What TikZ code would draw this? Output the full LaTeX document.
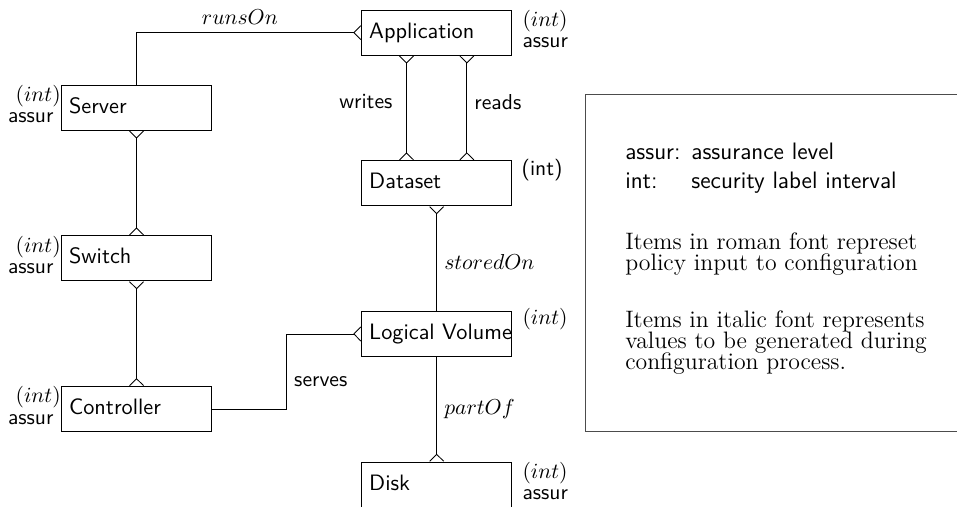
\documentclass[tikz,border=0pt]{standalone}
\usepackage{amsmath}
\usepackage{tikz}
\tikzset{>=latex}
\usetikzlibrary{calc,arrows.meta}
\newcommand{\tightlines}{\lineskiplimit=-20pt\relax}
\tikzset{
  entity/.style={draw, minimum height=0.732cm, text width=62.4pt, inner xsep=3.5pt, align=left, text height=1.6ex, text depth=.4ex, font=\fontsize{10.3}{12.4}\selectfont\sffamily},
  attr/.style={inner sep=0pt},
  foot/.tip={Straight Barb[reversed, length=3.2pt, width=6.5pt]},
  note/.style={anchor=north west, inner sep=0pt, align=left, font=\fontsize{11}{9.9}\selectfont\rmfamily\tightlines},
}

\begin{document}
\begin{tikzpicture}[font=\sffamily]
      \useasboundingbox (0, 0) rectangle (15.56, -8.23);
      \clip (0, 0) rectangle (15.56, -8.23);
      % entities
      \node[entity] (app) at (7.10, -0.53) {Application};
      \node[entity] (server) at (2.22, -1.75) {Server};
      \node[entity] (data) at (7.10, -2.98) {Dataset};
      \node[entity] (switch) at (2.22, -4.20) {Switch};
      \node[entity] (vol) at (7.10, -5.43) {\mbox{Logical Volume}};
      \node[entity] (ctrl) at (2.22, -6.65) {Controller};
      \node[entity] (disk) at (7.10, -7.88) {Disk};
      % attributes
      \node[attr, anchor=north west, align=left] (appattr) at ([xshift=4.6pt]app.north east) {$(int)$\\[-2pt]assur};
      \node[attr, anchor=north east, align=right] (serverattr) at (server.north west) {$(int)$\\[-2pt]assur\kern3.3pt};
      \node[attr, anchor=north west] (dataattr) at ([xshift=4.2pt, yshift=0.8pt]data.north east) {(int)};
      \node[attr, anchor=north east, align=right] (switchattr) at (switch.north west) {$(int)$\\[-2pt]assur\kern3.3pt};
      \node[attr, anchor=north west] (volattr) at ([xshift=4.6pt, yshift=1.5pt]vol.north east) {$(int)$};
      \node[attr, anchor=north east, align=right] (ctrlattr) at (ctrl.north west) {$(int)$\\[-2pt]assur\kern3.3pt};
      \node[attr, anchor=north west, align=left] (diskattr) at ([xshift=4.6pt]disk.north east) {$(int)$\\[-2pt]assur};
      % relations
      \draw[-foot] (server.north) |- node[above, pos=0.73] (runson) {$runsOn$} (app.west);
      \draw[foot-foot] (server.south) -- (switch.north);
      \draw[foot-foot] (switch.south) -- (ctrl.north);
      \draw[foot-foot] ($(app.south west)!.3!(app.south east)$) -- node[left=3pt, pos=.44] (writes) {writes} ($(data.north west)!.3!(data.north east)$);
      \draw[foot-foot] ($(app.south west)!.7!(app.south east)$) -- node[right, pos=.44] (reads) {reads} ($(data.north west)!.7!(data.north east)$);
      \draw[foot-] (data.south) -- node[right, pos=.53] (storedon) {$storedOn$} (vol.north);
      \draw[-foot] (vol.south) -- node[right] (partof) {$partOf$} (disk.north);
      \draw[-foot] (ctrl.east) -| node[right, pos=.86] (serves) {serves} ($(ctrl.east)!.5!(vol.west)$) |- (vol.west);
      % legend
      \node[draw=black!70, minimum width=7cm, minimum height=5.48cm, anchor=north west] (legend) at (9.51, -1.53) {};
      \node[anchor=base west, inner sep=0pt, font=\fontsize{11}{13.4}\selectfont\sffamily] (abbrev) at ([shift={(0.65, -1.07)}]legend.north west) {\begin{tabular}[t]{@{}l@{\hspace{5pt}}l@{}}assur: & assurance level\\ int: & security label interval\end{tabular}};
      \node[note] (roman) at ([shift={(0.65, -2.24)}]legend.north west) {Items in roman font represet\\ policy input to configuration};
      \node[note] (italic) at ([shift={(0.65, -3.51)}]legend.north west) {Items in italic font represents\\ values to be generated during\\ configuration process.};
    \end{tikzpicture}
\end{document}
